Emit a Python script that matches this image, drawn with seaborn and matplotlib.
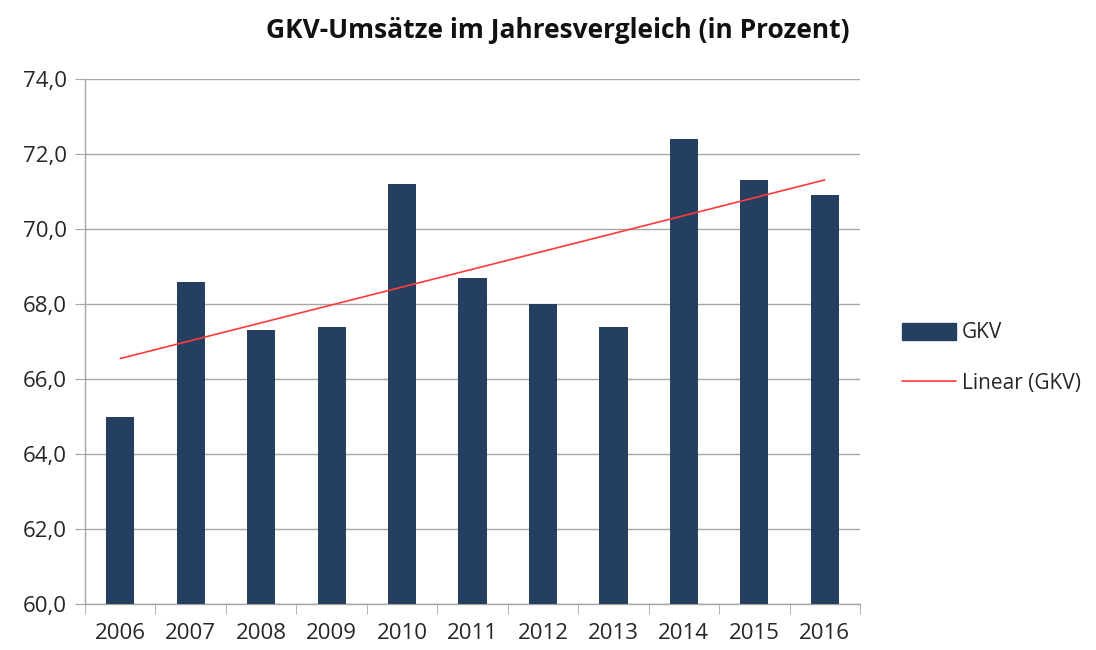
import numpy as np
import seaborn as sns
import matplotlib.pyplot as plt
from matplotlib.patches import Patch
from matplotlib.lines import Line2D

years = ['2006', '2007', '2008', '2009', '2010', '2011', '2012', '2013', '2014', '2015', '2016']
gkv = [65.0, 68.6, 67.3, 67.4, 71.2, 68.7, 68.0, 67.4, 72.4, 71.3, 70.9]
y_ticks = [60, 62, 64, 66, 68, 70, 72, 74]

sns.set_style('white')
plt.rcParams['font.family'] = ['Open Sans', 'DejaVu Sans']

bar_color = '#243f60'
grid_color = '#a6a6a6'

fig = plt.figure(figsize=(10.96, 6.5), dpi=100)
ax = fig.add_axes([85 / 1096, 46 / 650, 775 / 1096, 525 / 650])

sns.barplot(x=years, y=gkv, color=bar_color, width=0.4, saturation=1, ax=ax,
            linewidth=0, zorder=3)

# linear trend line (least squares fit, like Excel's "Linear" trend)
xs = np.arange(len(years))
slope, intercept = np.polyfit(xs, gkv, 1)
ax.plot(xs, slope * xs + intercept, color='#ff3b3b', lw=1.2, zorder=4)

ax.set_ylim(60, 74)
ax.set_xlim(-0.5, len(years) - 0.5)
ax.set_yticks(y_ticks)
ax.set_yticklabels([f'{v:.1f}'.replace('.', ',') for v in y_ticks])
ax.yaxis.grid(True, color=grid_color, lw=1, zorder=0)

for s in ['top', 'right']:
    ax.spines[s].set_visible(False)
for s in ['left', 'bottom']:
    ax.spines[s].set_color(grid_color)
    ax.spines[s].set_linewidth(1)

ax.tick_params(axis='y', which='major', length=7, color=grid_color, labelsize=16,
               labelcolor='#262626', pad=6, left=True)
ax.tick_params(axis='x', which='major', length=0, labelsize=16, labelcolor='#262626', pad=14)
ax.set_xticks(np.arange(-0.5, len(years)), minor=True)
ax.tick_params(axis='x', which='minor', length=7, color=grid_color, bottom=True)
ax.set_xlabel('')
ax.set_ylabel('')

fig.text(558 / 1096, 1 - 30 / 650, 'GKV-Umsätze im Jahresvergleich (in Prozent)',
         ha='center', va='center', fontsize=19, fontweight='bold', color='#111111')

handles = [Patch(facecolor=bar_color, edgecolor=bar_color),
           Line2D([0], [0], color='#ff3b3b', lw=1.2)]
fig.legend(handles, ['GKV', 'Linear (GKV)'], loc='center left',
           bbox_to_anchor=(883 / 1096, 1 - 358 / 650), frameon=False,
           fontsize=15, handlelength=2.6, handleheight=0.9, labelspacing=1.4,
           handletextpad=0.3, labelcolor='#262626')

fig.savefig('out.png', dpi=100)
